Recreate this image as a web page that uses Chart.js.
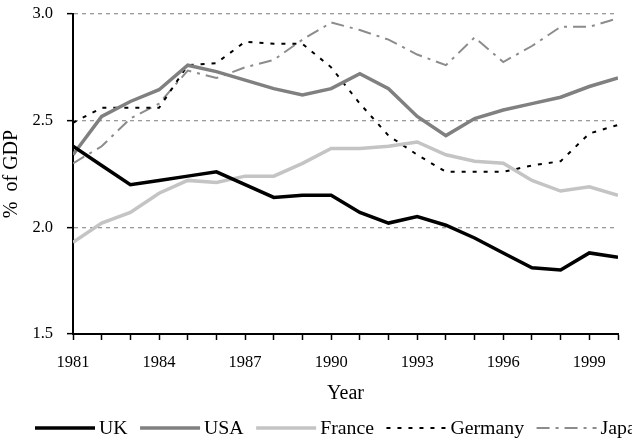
<!DOCTYPE html>
<html><head><meta charset="utf-8">
<script src="https://cdn.jsdelivr.net/npm/chart.js@4.4.1/dist/chart.umd.min.js"></script>
<style>html,body{margin:0;padding:0;background:#fff;overflow:hidden}canvas{display:block}</style>
</head><body>
<canvas id="c" width="632" height="446"></canvas>
<script>
const years = [1981,1982,1983,1984,1985,1986,1987,1988,1989,1990,1991,1992,1993,1994,1995,1996,1997,1998,1999,2000];
const uk      = [2.38,2.29,2.20,2.22,2.24,2.26,2.20,2.14,2.15,2.15,2.07,2.02,2.05,2.01,1.95,1.88,1.81,1.80,1.88,1.86];
const usa     = [2.34,2.52,2.59,2.645,2.76,2.73,2.69,2.65,2.62,2.65,2.72,2.65,2.52,2.43,2.51,2.55,2.58,2.61,2.66,2.70];
const france  = [1.93,2.02,2.07,2.16,2.22,2.21,2.24,2.24,2.30,2.37,2.37,2.38,2.40,2.34,2.31,2.30,2.22,2.17,2.19,2.15];
const germany = [2.49,2.56,2.56,2.56,2.76,2.77,2.87,2.86,2.86,2.75,2.58,2.43,2.34,2.26,2.26,2.26,2.29,2.31,2.44,2.48];
const japan   = [2.30,2.38,2.51,2.58,2.735,2.70,2.75,2.785,2.88,2.96,2.925,2.88,2.81,2.76,2.89,2.775,2.85,2.94,2.94,2.98];
const xTickLabels = [1981,1984,1987,1990,1993,1996,1999];
const yTickValues = [1.5,2.0,2.5,3.0];

const SERIF = "'Liberation Serif','Times New Roman',serif";

const toPts = arr => arr.map((v,i)=>({x:years[i], y:v}));

const lineLegend = {
  id: 'lineLegend',
  afterDraw(chart){
    const ctx = chart.ctx;
    let x = 35; const y = 428;
    ctx.save();
    ctx.font = '19.8px ' + SERIF;
    ctx.textBaseline = 'middle';
    ctx.textAlign = 'left';
    chart.data.datasets.forEach(ds => {
      ctx.save();
      ctx.strokeStyle = ds.borderColor;
      ctx.lineWidth = ds.borderWidth;
      ctx.setLineDash(ds.borderDash || []);
      ctx.beginPath(); ctx.moveTo(x, y); ctx.lineTo(x + 60, y); ctx.stroke();
      ctx.restore();
      ctx.fillStyle = '#000';
      ctx.fillText(ds.label, x + 64, y + 1);
      x += 64 + ctx.measureText(ds.label).width + 12.5;
    });
    ctx.restore();
  }
};

new Chart(document.getElementById('c'), {
  type: 'line',
  data: {
    datasets: [
      {label:'UK', data: toPts(uk), borderColor:'#000000', borderWidth:3.5},
      {label:'USA', data: toPts(usa), borderColor:'#808080', borderWidth:3.5},
      {label:'France', data: toPts(france), borderColor:'#c4c4c4', borderWidth:3.5},
      {label:'Germany', data: toPts(germany), borderColor:'#000000', borderWidth:2, borderDash:[4,7]},
      {label:'Japan', data: toPts(japan), borderColor:'#8c8c8c', borderWidth:2, borderDash:[13,6,3,6]}
    ]
  },
  options: {
    responsive: false,
    animation: false,
    events: [],
    layout: {padding: {top: 14, right: 14, bottom: 40, left: 0}},
    elements: {point: {radius: 0}, line: {tension: 0, fill: false}},
    plugins: {legend: {display: false}, tooltip: {enabled: false}},
    scales: {
      x: {
        type: 'linear', min: 1981, max: 2000,
        afterFit: s => { s.height = 72; s.paddingLeft = 0; s.paddingRight = 0; },
        afterBuildTicks: s => { s.ticks = years.map(v => ({value: v})); },
        ticks: {autoSkip: false, maxRotation: 0, padding: 13, color: '#000',
          font: {family: SERIF, size: 16.5},
          callback: v => xTickLabels.includes(v) ? String(v) : ''},
        grid: {drawOnChartArea: false, drawTicks: true, tickLength: 6, tickColor: '#000', tickWidth: 1.5},
        border: {color: '#000', width: 2},
        title: {display: true, text: 'Year', color: '#000', font: {family: SERIF, size: 20}, padding: {top: 0, bottom: 0}}
      },
      y: {
        min: 1.5, max: 3.0,
        afterFit: s => { s.width = 73; s.paddingTop = 0; s.paddingBottom = 0; },
        afterBuildTicks: s => { s.ticks = yTickValues.map(v => ({value: v})); },
        ticks: {padding: 14, color: '#000', font: {family: SERIF, size: 16.5},
          callback: v => Number(v).toFixed(1)},
        grid: {
          color: c => (c.tick && c.tick.value === 1.5) ? 'rgba(0,0,0,0)' : '#9a9a9a',
          lineWidth: 1.3, tickLength: 6, tickColor: '#000', tickWidth: 1.5
        },
        border: {color: '#000', width: 2, dash: [4,4]},
        title: {display: true, text: '%  of GDP', color: '#000', font: {family: SERIF, size: 20}, padding: {top: 0, bottom: 0}}
      }
    }
  },
  plugins: [lineLegend]
});
</script>
</body></html>
